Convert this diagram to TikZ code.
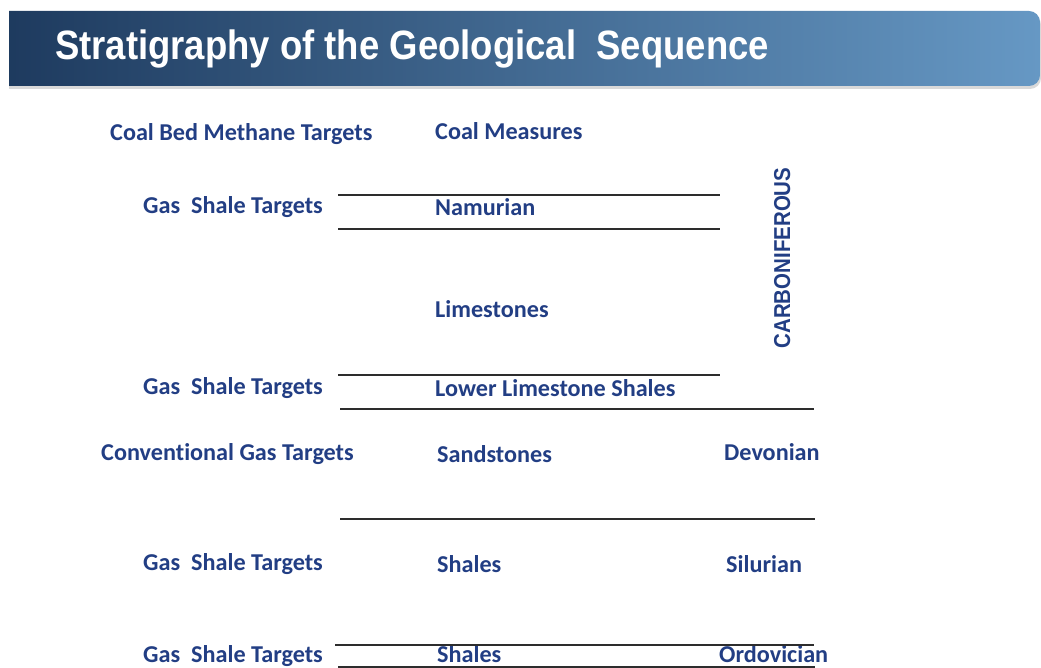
\documentclass[tikz,border=0pt]{standalone}
\usepackage{fontspec}
\setmainfont{Carlito}[Ligatures=NoCommon]
\newfontfamily\arialbold{Liberation Sans}[UprightFont=*-Bold]
\definecolor{headdark}{RGB}{28,56,92}
\definecolor{headlight}{RGB}{102,152,196}
\definecolor{labelblue}{RGB}{34,62,132}
\definecolor{rule}{RGB}{45,45,45}
\tikzset{
  lbl/.style={anchor=base west, inner sep=0pt, text=labelblue,
    font=\fontsize{24.2}{24.2}\selectfont\bfseries},
  boundary/.style={draw=rule, line width=2.4pt},
}
\begin{document}
\begin{tikzpicture}[x=1pt,y=-1pt]
\useasboundingbox (0,0) rectangle (1041,668);
\fill[white] (0,0) rectangle (1041,668);

% title banner with a soft shadow, square on the left, rounded on the right
\begin{scope}
  \clip (9,0) rectangle (1041,100);
  \fill[black!15, rounded corners=11pt] (-20,14) rectangle (1041,89);
  \shade[left color=headdark, right color=headlight, rounded corners=11pt]
    (-20,11) rectangle (1040,86);
\end{scope}
\node[anchor=base west, inner sep=0pt, text=white] (title) at (55,60)
  {\scalebox{0.89}[1]{\arialbold\fontsize{41}{41}\selectfont Stratigraphy of the Geological\ \ Sequence}};

% target column
\node[lbl] (t1) at (110,141) {Coal Bed Methane Targets};
\node[lbl] (t2) at (143,214) {Gas\ \ Shale Targets};
\node[lbl] (t3) at (143,394) {Gas\ \ Shale Targets};
\node[lbl] (t4) at (101,460) {Conventional Gas Targets};
\node[lbl] (t5) at (143,570) {Gas\ \ Shale Targets};
\node[lbl] (t6) at (143,662) {Gas\ \ Shale Targets};

% lithology column
\node[lbl] (u1) at (435,140) {Coal Measures};
\node[lbl] (u2) at (435,216) {Namurian};
\node[lbl] (u3) at (435,317) {Limestones};
\node[lbl] (u4) at (435,396) {Lower Limestone Shales};
\node[lbl] (u5) at (437,462) {Sandstones};
\node[lbl] (u6) at (437,572) {Shales};
\node[lbl] (u7) at (437,662) {Shales};

% system column
\node[anchor=base, inner sep=0pt, text=labelblue, rotate=90] (carb) at (790,258)
  {\scalebox{0.89}[1]{\arialbold\fontsize{23}{23}\selectfont CARBONIFEROUS}};
\node[lbl] (s1) at (724,460) {Devonian};
\node[lbl] (s2) at (726,572) {Silurian};
\node[lbl] (s3) at (719,662) {Ordovician};

% unit boundaries
\coordinate (a1) at (338,195); \coordinate (b1) at (720,195);
\coordinate (a2) at (338,229); \coordinate (b2) at (720,229);
\coordinate (a3) at (338,375); \coordinate (b3) at (720,375);
\coordinate (a4) at (340,409); \coordinate (b4) at (814,409);
\coordinate (a5) at (340,519); \coordinate (b5) at (815,519);
\coordinate (a6) at (335,645); \coordinate (b6) at (814,645);
\coordinate (a7) at (338,667); \coordinate (b7) at (815,667);
\foreach \i in {1,...,7} \draw[boundary] (a\i) -- (b\i);
\end{tikzpicture}
\end{document}
